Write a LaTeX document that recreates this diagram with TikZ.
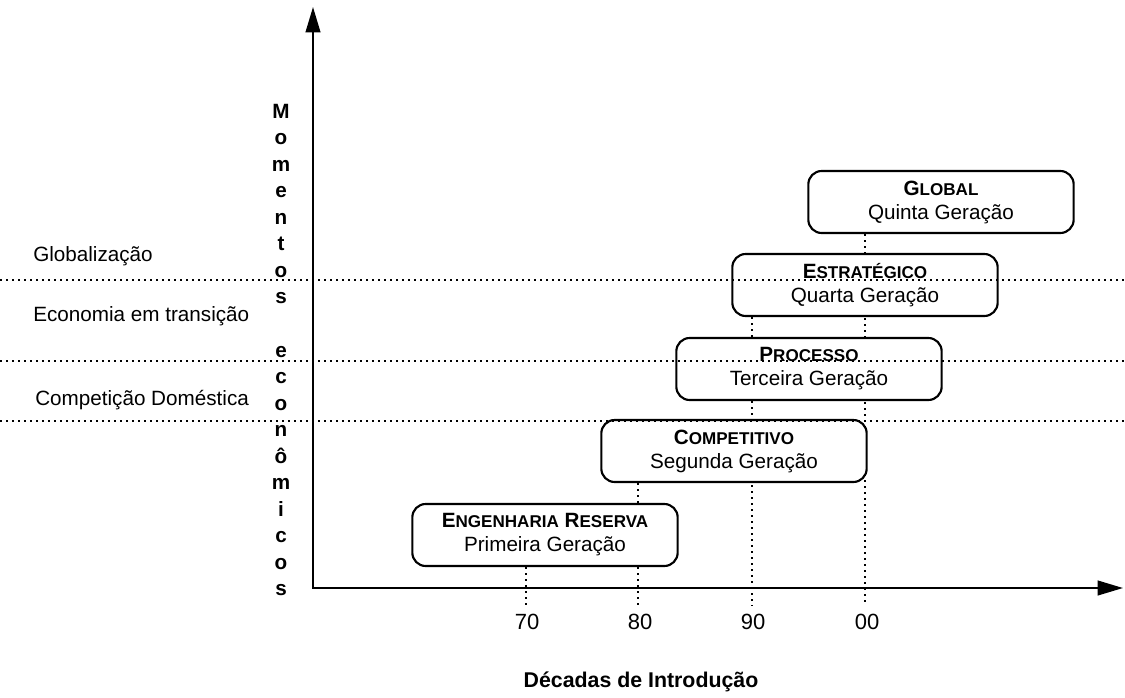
\documentclass[tikz,border=0pt]{standalone}
\usepackage{fontspec}
\setmainfont{Liberation Sans}
\usetikzlibrary{arrows.meta}
\newcommand{\SCap}[2]{#1{\fontsize{12.8pt}{12pt}\selectfont #2}}
\pgfdeclarelayer{bg}
\pgfsetlayers{bg,main}
\begin{document}
\begin{tikzpicture}[x=0.75pt,y=-0.75pt,
  gen/.style={draw=black, line width=1.6pt, rounded corners=10pt, fill=white,
    minimum width=199pt, minimum height=46.5pt, align=center,
    font=\fontsize{15.5pt}{18pt}\selectfont, inner sep=0pt},
  axis/.style={line width=1.5pt, {Triangle[length=19pt,width=11pt]}-{Triangle[length=19pt,width=11pt]}},
  guide/.style={line width=1pt, dash pattern=on 1.5pt off 3pt},
  lbl/.style={font=\fontsize{15.5pt}{18pt}\selectfont, inner sep=0pt},
  tlbl/.style={font=\fontsize{16.5pt}{18pt}\selectfont, inner sep=0pt},
  blbl/.style={font=\fontsize{16pt}{18pt}\selectfont\bfseries, inner sep=0pt},
]
\useasboundingbox (0,0) rectangle (1125,697);
% axes
\coordinate (O) at (313,588);
\coordinate (Ytop) at (313,7);
\coordinate (Xend) at (1123,588);
\draw[axis] (Ytop) -- (O) -- (Xend);
% tick coordinates
\coordinate (t70) at (526,606);
\coordinate (t80) at (638,606);
\coordinate (t90) at (752,606);
\coordinate (t00) at (865,606);
% boxes
\node[gen] (b1) at (545,535) {\textbf{\SCap{E}{NGENHARIA} \SCap{R}{ESERVA}}\\Primeira Geração};
\node[gen] (b2) at (734,451) {\textbf{\SCap{C}{OMPETITIVO}}\\Segunda Geração};
\node[gen] (b3) at (809,369) {\textbf{\SCap{P}{ROCESSO}}\\Terceira Geração};
\node[gen] (b4) at (865,285) {\textbf{\SCap{E}{STRATÉGICO}}\\Quarta Geração};
\node[gen] (b5) at (941,202) {\textbf{\SCap{G}{LOBAL}}\\Quinta Geração};
% vertical guides (behind boxes)
\begin{pgfonlayer}{bg}
\draw[guide] (b1.south -| t70) -- (t70);
\draw[guide] (b2.south -| t80) -- (t80);
\draw[guide] (b4.south -| t90) -- (t90);
\draw[guide] (b5.south -| t00) -- (t00);
\end{pgfonlayer}
% horizontal guides
\coordinate (h1l) at (0,280);  \coordinate (h1r) at (1125,280);
\coordinate (h2l) at (0,361);  \coordinate (h2r) at (1125,361);
\coordinate (h3l) at (0,421);  \coordinate (h3r) at (1125,421);
\draw[guide] (h1l) -- (h1r);
\draw[guide] (h2l) -- (h2r);
\draw[guide] (h3l) -- (h3r);
% tick labels
\node[tlbl] (l70) at (527,622) {70};
\node[tlbl] (l80) at (640,622) {80};
\node[tlbl] (l90) at (753,622) {90};
\node[tlbl] (l00) at (867,622) {00};
% left labels
\node[lbl, anchor=west] (g1) at (33,256) {Globalização};
\node[lbl, anchor=west] (g2) at (33,316) {Economia em transição};
\node[lbl, anchor=west] (g3) at (35,400) {Competição Doméstica};
% axis titles
\node[inner sep=0pt, align=center, font=\fontsize{15.5pt}{19.9pt}\selectfont\bfseries] (ylab) at (281,350)
  {M\\o\\m\\e\\n\\t\\o\\s\\[19.9pt]e\\c\\o\\n\\ô\\m\\i\\c\\o\\s};
\node[blbl] (xlab) at (641,682) {Décadas de Introdução};
\end{tikzpicture}
\end{document}
